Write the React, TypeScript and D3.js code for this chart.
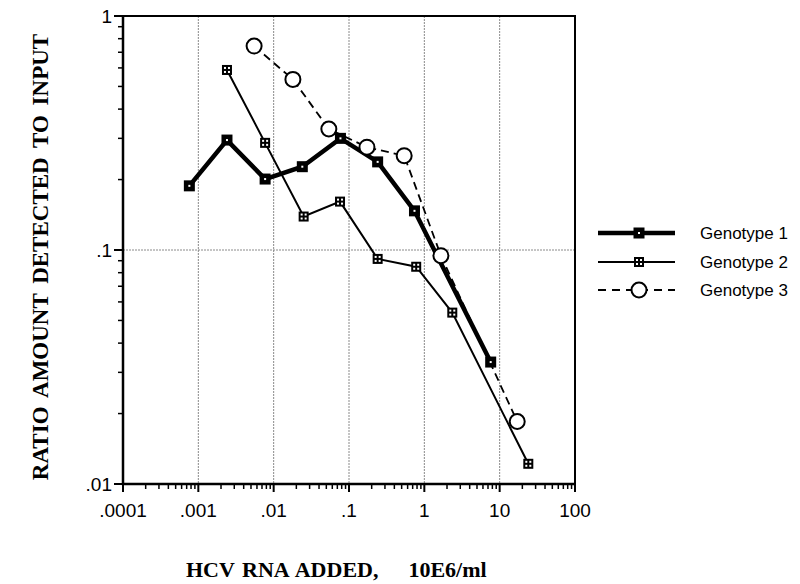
import React, { useEffect, useRef } from "react";
import * as d3 from "d3";

// values
const g1X = [0.00076, 0.0024, 0.0077, 0.024, 0.077, 0.24, 0.74, 7.6];
const g1Y = [0.188, 0.295, 0.201, 0.227, 0.3, 0.238, 0.147, 0.0332];
const g2X = [0.0024, 0.0077, 0.025, 0.076, 0.24, 0.78, 2.35, 24];
const g2Y = [0.588, 0.287, 0.139, 0.161, 0.0916, 0.0848, 0.054, 0.0122];
const g3X = [0.0055, 0.018, 0.054, 0.173, 0.54, 1.66, 17.1];
const g3Y = [0.744, 0.536, 0.329, 0.275, 0.253, 0.0946, 0.0185];

const xTicks = [0.0001, 0.001, 0.01, 0.1, 1, 10, 100];
const xTickLabels = [".0001", ".001", ".01", ".1", "1", "10", "100"];
const yTicks = [0.01, 0.1, 1];
const yTickLabels = [".01", ".1", "1"];
const seriesNames = ["Genotype 1", "Genotype 2", "Genotype 3"];

export default function App() {
  const ref = useRef<SVGSVGElement>(null);

  useEffect(() => {
    const svg = d3.select(ref.current);
    svg.selectAll("*").remove();

    var m = { top: 16, right: 225, bottom: 100, left: 123 },
      W = 800,
      H = 584;

    const x = d3.scaleLog().domain([0.0001, 100]).range([m.left, W - m.right]);
    const y = d3.scaleLog().domain([0.01, 1]).range([H - m.bottom, m.top]);

    // grid lines
    svg
      .selectAll(".vgrid")
      .data(xTicks.slice(1, -1))
      .join("line")
      .attr("x1", (d) => x(d))
      .attr("x2", (d) => x(d))
      .attr("y1", y(1))
      .attr("y2", y(0.01))
      .attr("stroke", "#8a8a8a")
      .attr("stroke-width", 1)
      .attr("stroke-dasharray", "2,1");
    svg
      .append("line")
      .attr("x1", x(0.0001))
      .attr("x2", x(100))
      .attr("y1", y(0.1))
      .attr("y2", y(0.1))
      .attr("stroke", "#8a8a8a")
      .attr("stroke-width", 1)
      .attr("stroke-dasharray", "2,1");

    // frame
    svg
      .append("path")
      .attr("d", `M${x(0.0001)},${y(1)}H${x(100)}V${y(0.01)}`)
      .attr("fill", "none")
      .attr("stroke", "#000")
      .attr("stroke-width", 2);
    svg
      .append("path")
      .attr("d", `M${x(0.0001)},${y(1)}V${y(0.01)}H${x(100)}`)
      .attr("fill", "none")
      .attr("stroke", "#000")
      .attr("stroke-width", 2.5);

    // minor ticks
    var xMinor: number[] = [];
    for (let e = -4; e < 2; e++) for (let k = 2; k < 10; k++) xMinor.push(k * Math.pow(10, e));
    var yMinor: number[] = [];
    for (let e = -2; e < 0; e++) for (let k = 2; k < 10; k++) yMinor.push(k * Math.pow(10, e));

    svg
      .selectAll(".xminor")
      .data(xMinor)
      .join("line")
      .attr("x1", (d) => x(d))
      .attr("x2", (d) => x(d))
      .attr("y1", y(0.01))
      .attr("y2", y(0.01) + 5)
      .attr("stroke", "#000")
      .attr("stroke-width", 1.5);
    svg
      .selectAll(".xmajor")
      .data(xTicks)
      .join("line")
      .attr("x1", (d) => x(d))
      .attr("x2", (d) => x(d))
      .attr("y1", y(0.01))
      .attr("y2", y(0.01) + 8)
      .attr("stroke", "#000")
      .attr("stroke-width", 2);
    svg
      .selectAll(".yminor")
      .data(yMinor)
      .join("line")
      .attr("x1", x(0.0001) - 5)
      .attr("x2", x(0.0001))
      .attr("y1", (d) => y(d))
      .attr("y2", (d) => y(d))
      .attr("stroke", "#000")
      .attr("stroke-width", 1.5);
    svg
      .selectAll(".ymajor")
      .data(yTicks)
      .join("line")
      .attr("x1", x(0.0001) - 9)
      .attr("x2", x(0.0001))
      .attr("y1", (d) => y(d))
      .attr("y2", (d) => y(d))
      .attr("stroke", "#000")
      .attr("stroke-width", 2);

    // tick labels
    svg
      .selectAll(".xlab")
      .data(xTicks)
      .join("text")
      .attr("x", (d) => x(d))
      .attr("y", y(0.01) + 33)
      .attr("text-anchor", "middle")
      .attr("font-family", "Liberation Sans, Arial, sans-serif")
      .attr("font-size", 19)
      .text((d, i) => xTickLabels[i]);
    svg
      .selectAll(".ylab")
      .data(yTicks)
      .join("text")
      .attr("x", x(0.0001) - 11)
      .attr("y", (d) => y(d) + 7)
      .attr("text-anchor", "end")
      .attr("font-family", "Liberation Sans, Arial, sans-serif")
      .attr("font-size", 19)
      .text((d, i) => yTickLabels[i]);

    // axis titles
    svg
      .append("text")
      .attr("transform", `translate(48,257) rotate(-90)`)
      .attr("text-anchor", "middle")
      .attr("font-family", "Liberation Serif, Times New Roman, serif")
      .attr("font-weight", "bold")
      .attr("font-size", 23)
      .attr("word-spacing", 4)
      .text("RATIO AMOUNT DETECTED TO INPUT");
    svg
      .append("text")
      .attr("x", 186)
      .attr("y", 577)
      .attr("font-family", "Liberation Serif, Times New Roman, serif")
      .attr("font-weight", "bold")
      .attr("font-size", 22)
      .attr("word-spacing", 2)
      .style("white-space", "pre")
      .text("HCV RNA ADDED,    10E6/ml");

    // series
    const line = d3
      .line<[number, number]>()
      .x((d) => x(d[0]))
      .y((d) => y(d[1]));

    const s1 = g1X.map((v, i) => [v, g1Y[i]] as [number, number]);
    const s2 = g2X.map((v, i) => [v, g2Y[i]] as [number, number]);
    const s3 = g3X.map((v, i) => [v, g3Y[i]] as [number, number]);

    svg.append("path").attr("d", line(s3)).attr("fill", "none").attr("stroke", "#000").attr("stroke-width", 1.8).attr("stroke-dasharray", "8,5");
    svg.append("path").attr("d", line(s2)).attr("fill", "none").attr("stroke", "#000").attr("stroke-width", 2);
    svg.append("path").attr("d", line(s1)).attr("fill", "none").attr("stroke", "#000").attr("stroke-width", 4.5);

    function sq1(g: any, cx: number, cy: number) {
      g.append("rect").attr("x", cx - 5.5).attr("y", cy - 5.5).attr("width", 11).attr("height", 11).attr("fill", "#000");
      g.append("rect").attr("x", cx - 1).attr("y", cy - 1).attr("width", 2).attr("height", 2).attr("fill", "#fff");
    }
    function sq2(g: any, cx: number, cy: number) {
      g.append("rect").attr("x", cx - 5).attr("y", cy - 5).attr("width", 10).attr("height", 10).attr("fill", "#000");
      [[-3, -3], [1, -3], [-3, 1], [1, 1]].forEach((o) => {
        g.append("rect").attr("x", cx + o[0]).attr("y", cy + o[1]).attr("width", 2).attr("height", 2).attr("fill", "#fff");
      });
    }
    function circ(g: any, cx: number, cy: number) {
      g.append("circle").attr("cx", cx).attr("cy", cy).attr("r", 7.5).attr("fill", "#fff").attr("stroke", "#000").attr("stroke-width", 2);
    }

    s3.forEach((d) => circ(svg, x(d[0]), y(d[1])));
    s2.forEach((d) => sq2(svg, x(d[0]), y(d[1])));
    s1.forEach((d) => sq1(svg, x(d[0]), y(d[1])));

    // legend
    const legY = [233, 262, 290];
    const markers = [sq1, sq2, circ];
    const widths = [4.5, 2, 2];
    seriesNames.forEach((name, i) => {
      svg
        .append("line")
        .attr("x1", 598)
        .attr("x2", 675)
        .attr("y1", legY[i])
        .attr("y2", legY[i])
        .attr("stroke", "#000")
        .attr("stroke-width", widths[i])
        .attr("stroke-dasharray", i === 2 ? "8,6" : null);
      markers[i](svg, 639, legY[i]);
      svg
        .append("text")
        .attr("x", 700)
        .attr("y", legY[i] + 6)
        .attr("font-family", "Liberation Sans, Arial, sans-serif")
        .attr("font-size", 17)
        .text(name);
    });
  }, []);

  return (
    <svg ref={ref} width={800} height={584} style={{ position: "absolute", left: 0, top: 0, background: "#fff" }}></svg>
  );
}
